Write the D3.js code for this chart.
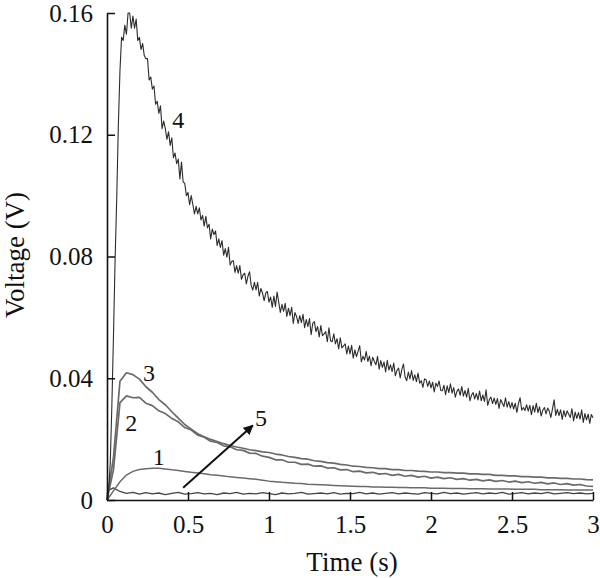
<!DOCTYPE html>
<html>
<head>
<meta charset="utf-8">
<script src="https://cdn.jsdelivr.net/npm/d3@7"></script>
<style>
html,body{margin:0;padding:0;background:#fff;}
svg{display:block;}
</style>
</head>
<body>
<svg id="chart" width="600" height="578"></svg>
<script>
// ---------- data ----------
const xTicks = [0, 0.5, 1, 1.5, 2, 2.5, 3];
const xTickLabels = ["0", "0.5", "1", "1.5", "2", "2.5", "3"];
const yTicks = [0, 0.04, 0.08, 0.12, 0.16];
const yTickLabels = ["0", "0.04", "0.08", "0.12", "0.16"];
const xTitle = "Time (s)";
const yTitle = "Voltage (V)";

// sampling steps (s) of the traces
const step4 = 0.01;
const stepSmall = 0.04;

// curve 4 (V), t = 0, 0.01, ... 3.00
const curve4 = [
0.000,0.003,0.012,0.031,0.054,0.079,0.099,0.123,0.141,0.152,
0.151,0.156,0.153,0.160,0.160,0.155,0.159,0.155,0.158,0.151,
0.152,0.148,0.150,0.146,0.145,0.145,0.138,0.139,0.135,0.136,
0.130,0.131,0.127,0.1295,0.122,0.1245,0.122,0.1185,0.121,0.1165,
0.119,0.1125,0.114,0.1105,0.112,0.1055,0.111,0.1045,0.104,0.100,
0.101,0.097,0.100,0.097,0.094,0.0965,0.094,0.096,0.092,0.0935,
0.090,0.0932,0.0894,0.0906,0.0858,0.089,0.0872,0.0884,0.0836,0.0858,
0.083,0.0852,0.0804,0.0826,0.0798,0.083,0.0772,0.0784,0.0786,0.0748,
0.077,0.0745,0.077,0.0725,0.074,0.0745,0.071,0.0735,0.075,0.0705,
0.069,0.0715,0.069,0.0715,0.067,0.0695,0.068,0.0655,0.068,0.0685,
0.065,0.0667,0.0633,0.067,0.0636,0.0683,0.065,0.0616,0.0643,0.062,
0.0646,0.0603,0.063,0.0606,0.0633,0.058,0.0616,0.0603,0.058,0.0606,
0.0583,0.061,0.0566,0.0593,0.057,0.0596,0.0543,0.058,0.0586,0.0553,
0.057,0.0536,0.0573,0.054,0.0546,0.0553,0.052,0.0566,0.0523,0.052,
0.0546,0.0513,0.053,0.0496,0.0533,0.050,0.0506,0.0513,0.048,0.0506,
0.048,0.0508,0.0466,0.0493,0.0471,0.0489,0.0507,0.0454,0.0472,0.046,
0.0488,0.0455,0.0473,0.0441,0.0469,0.0456,0.0444,0.0472,0.043,0.0458,
0.0436,0.0453,0.0421,0.0459,0.0427,0.0444,0.0422,0.045,0.0408,0.0426,
0.0433,0.0401,0.0429,0.0447,0.0404,0.0392,0.042,0.0398,0.0425,0.0393,
0.0411,0.0389,0.0417,0.0384,0.0392,0.037,0.0398,0.0395,0.0373,0.0391,
0.0368,0.0387,0.0355,0.0384,0.0373,0.0391,0.036,0.0359,0.0377,0.0346,
0.0375,0.0353,0.0382,0.0351,0.0369,0.0338,0.0357,0.0365,0.0344,0.0373,
0.0341,0.036,0.0338,0.0367,0.0326,0.0344,0.0353,0.0332,0.035,0.0329,
0.0358,0.0326,0.0345,0.0324,0.0362,0.0311,0.033,0.0338,0.0317,0.0335,
0.0314,0.0333,0.0301,0.033,0.0319,0.0307,0.0336,0.0305,0.0323,0.0302,
0.032,0.0299,0.0318,0.0288,0.0317,0.0336,0.0295,0.0304,0.0294,0.0313,
0.0292,0.0311,0.028,0.031,0.0289,0.0318,0.0287,0.0306,0.0276,0.0295,
0.0304,0.0283,0.0302,0.0292,0.0271,0.03,0.0329,0.0278,0.0298,0.0277,
0.0296,0.0265,0.0294,0.0274,0.0293,0.0282,0.0271,0.03,0.026,0.0289,
0.0268,0.0287,0.0266,0.0296,0.0255,0.0284,0.0263,0.0282,0.0252,0.0281,
0.027];

// curves 1, 2, 3, 5 (V), t = 0, 0.04, ... 3.00
const curve3 = [
0.0000,0.0140,0.0390,0.0418,0.0412,0.0397,0.0372,0.0354,0.0330,0.0313,
0.0290,0.0269,0.0248,0.0233,0.0218,0.0208,0.0199,0.0192,0.0185,0.0179,
0.0174,0.0170,0.0165,0.0162,0.0158,0.0156,0.0151,0.0148,0.0143,0.0140,
0.0136,0.0134,0.0129,0.0127,0.0123,0.0121,0.0117,0.0115,0.0111,0.0110,
0.0107,0.0106,0.0103,0.0103,0.0100,0.0100,0.0097,0.0097,0.0095,0.0094,
0.0092,0.0092,0.0090,0.0090,0.0088,0.0088,0.0086,0.0086,0.0084,0.0084,
0.0081,0.0081,0.0079,0.0079,0.0077,0.0077,0.0075,0.0075,0.0073,0.0073,
0.0071,0.0071,0.0069,0.0069,0.0067,0.0066];
const curve2 = [
0.0000,0.0100,0.0320,0.0342,0.0336,0.0337,0.0318,0.0310,0.0293,0.0284,
0.0268,0.0257,0.0238,0.0230,0.0213,0.0206,0.0193,0.0189,0.0178,0.0175,
0.0165,0.0163,0.0154,0.0153,0.0144,0.0140,0.0132,0.0132,0.0124,0.0124,
0.0117,0.0118,0.0111,0.0112,0.0105,0.0106,0.0099,0.0100,0.0093,0.0095,
0.0089,0.0091,0.0085,0.0087,0.0081,0.0084,0.0078,0.0081,0.0075,0.0078,
0.0072,0.0075,0.0070,0.0073,0.0068,0.0070,0.0065,0.0068,0.0063,0.0066,
0.0061,0.0064,0.0059,0.0062,0.0057,0.0060,0.0055,0.0058,0.0053,0.0056,
0.0051,0.0054,0.0049,0.0051,0.0046,0.0045];
const curve1 = [
0.0000,0.0030,0.0060,0.0082,0.0094,0.0100,0.0103,0.0104,0.0104,0.0102,
0.0099,0.0097,0.0094,0.0091,0.0089,0.0086,0.0083,0.0081,0.0079,0.0076,
0.0074,0.0072,0.0070,0.0068,0.0065,0.0062,0.0060,0.0058,0.0057,0.0055,
0.0054,0.0052,0.0051,0.0050,0.0049,0.0048,0.0047,0.0046,0.0045,0.0044,
0.0044,0.0043,0.0043,0.0042,0.0042,0.0041,0.0041,0.0040,0.0040,0.0040,
0.0039,0.0039,0.0039,0.0038,0.0038,0.0038,0.0037,0.0037,0.0037,0.0036,
0.0036,0.0036,0.0036,0.0035,0.0035,0.0035,0.0035,0.0034,0.0034,0.0034,
0.0034,0.0033,0.0033,0.0033,0.0033,0.0033];
const curve5 = [
0.0030,0.0040,0.0028,0.0022,0.0025,0.0019,0.0024,0.0020,0.0023,0.0018,
0.0022,0.0025,0.0019,0.0021,0.0024,0.0020,0.0022,0.0018,0.0023,0.0021,
0.0025,0.0019,0.0022,0.0020,0.0024,0.0021,0.0018,0.0023,0.0020,0.0022,
0.0025,0.0019,0.0021,0.0023,0.0020,0.0024,0.0019,0.0022,0.0021,0.0025,
0.0020,0.0023,0.0019,0.0022,0.0024,0.0020,0.0023,0.0021,0.0019,0.0024,
0.0022,0.0020,0.0025,0.0021,0.0023,0.0019,0.0022,0.0024,0.0020,0.0023,
0.0021,0.0025,0.0019,0.0022,0.0024,0.0020,0.0023,0.0021,0.0025,0.0020,
0.0022,0.0024,0.0021,0.0023,0.0020,0.0022];

// curve labels: text, t, V
const labelText = ["4", "3", "2", "1", "5"];
const labelT = [0.44, 0.26, 0.15, 0.32, 0.95];
const labelV = [0.1250, 0.0418, 0.0255, 0.0142, 0.0270];
// arrow to curve 5: tail and head
const arrowT = [0.47, 0.90];
const arrowV = [0.0040, 0.0245];

// ---------- drawing ----------
const FONT = "'Liberation Serif', 'Times New Roman', serif";
const svg = d3.select("#chart");
const x = d3.scaleLinear().domain([0, 3]).range([107, 593]);
const y = d3.scaleLinear().domain([0, 0.16]).range([500, 13]);

const traces = [
  {vals: curve5, step: stepSmall, color: "#444", w: 1.3},
  {vals: curve1, step: stepSmall, color: "#6a6a6a", w: 1.5},
  {vals: curve2, step: stepSmall, color: "#6a6a6a", w: 1.7},
  {vals: curve3, step: stepSmall, color: "#6a6a6a", w: 1.7},
  {vals: curve4, step: step4, color: "#2c2c2c", w: 1.1}
];
const line = d3.line().x(d => x(d.t)).y(d => y(d.v));
traces.forEach(tr => {
  const pts = tr.vals.map((v, i) => ({t: i * tr.step, v: v}));
  svg.append("path").datum(pts)
    .attr("d", line)
    .attr("fill", "none")
    .attr("stroke", tr.color)
    .attr("stroke-width", tr.w)
    .attr("stroke-linejoin", "round");
});

// axes
const xAxis = d3.axisBottom(x).tickValues(xTicks)
  .tickFormat((d, i) => xTickLabels[i]).tickSizeInner(-8).tickSizeOuter(0).tickPadding(15);
const yAxis = d3.axisLeft(y).tickValues(yTicks)
  .tickFormat((d, i) => yTickLabels[i]).tickSizeInner(-8).tickSizeOuter(0).tickPadding(14);

const gx = svg.append("g").attr("transform", "translate(0,500)").call(xAxis);
const gy = svg.append("g").attr("transform", "translate(107,0)").call(yAxis);
[gx, gy].forEach(g => {
  g.select(".domain").attr("stroke", "#111").attr("stroke-width", 1.6);
  g.selectAll(".tick line").attr("stroke", "#111").attr("stroke-width", 1.5);
  g.selectAll(".tick text")
    .style("font-family", FONT).style("font-size", "25px").style("fill", "#111");
});

// axis titles
svg.append("text").attr("x", 352).attr("y", 571)
  .style("font-family", FONT).style("font-size", "27px").style("fill", "#111")
  .attr("text-anchor", "middle").text(xTitle);
svg.append("text")
  .attr("transform", "translate(24,255) rotate(-90)")
  .style("font-family", FONT).style("font-size", "27px").style("fill", "#111")
  .attr("text-anchor", "middle").text(yTitle);

// curve labels
svg.selectAll("text.lbl").data(labelText).enter().append("text")
  .attr("class", "lbl")
  .attr("x", (d, i) => x(labelT[i]))
  .attr("y", (d, i) => y(labelV[i]))
  .attr("dy", "0.35em")
  .attr("text-anchor", "middle")
  .style("font-family", FONT).style("font-size", "24px").style("fill", "#111")
  .text(d => d);

// arrow
svg.append("defs").append("marker")
  .attr("id", "ah").attr("viewBox", "0 0 10 10")
  .attr("refX", 9).attr("refY", 5)
  .attr("markerWidth", 5).attr("markerHeight", 5)
  .attr("orient", "auto")
  .append("path").attr("d", "M0,0 L10,5 L0,10 z").attr("fill", "#111");
svg.append("line")
  .attr("x1", x(arrowT[0])).attr("y1", y(arrowV[0]))
  .attr("x2", x(arrowT[1])).attr("y2", y(arrowV[1]))
  .attr("stroke", "#111").attr("stroke-width", 2)
  .attr("marker-end", "url(#ah)");
</script>
</body>
</html>
